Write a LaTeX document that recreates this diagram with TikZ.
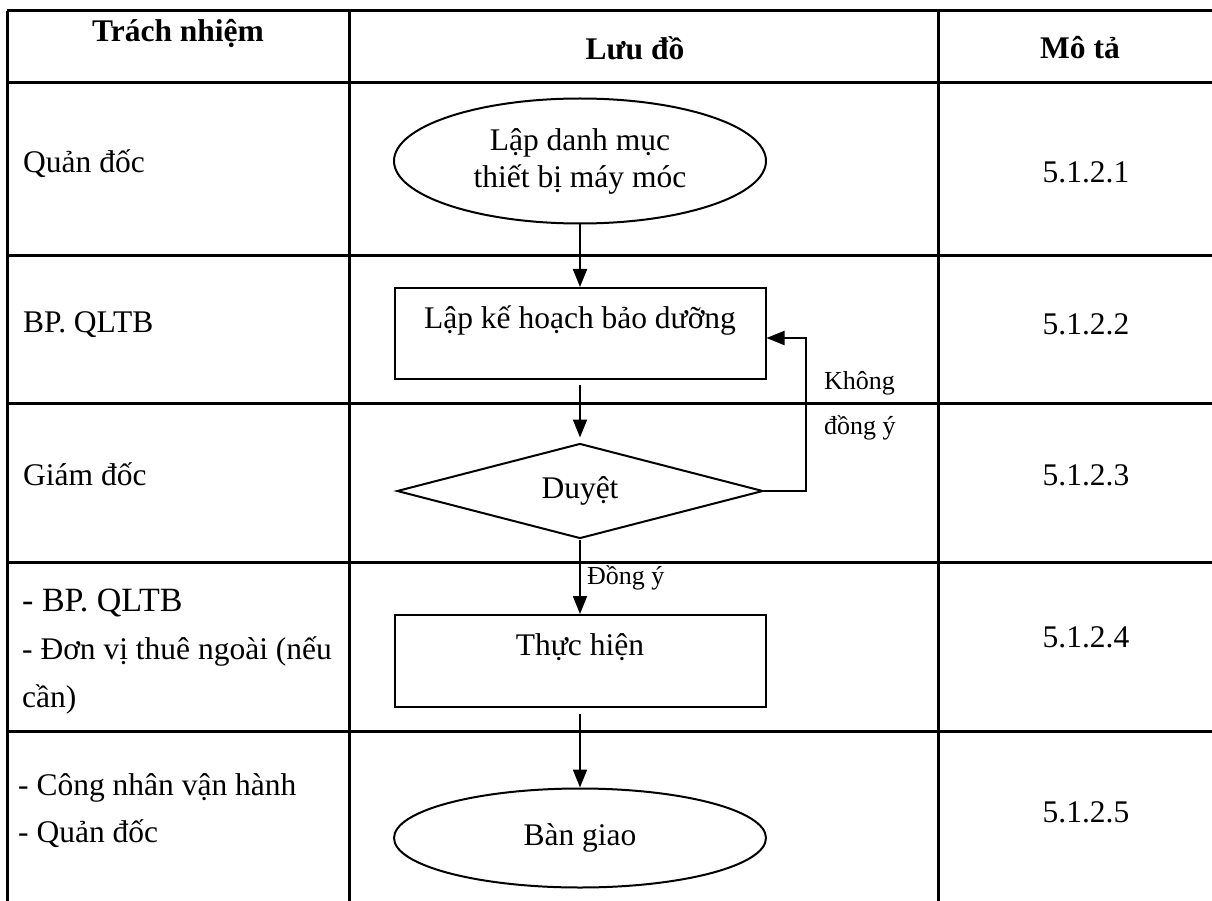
\documentclass[tikz,border=0pt]{standalone}
\usepackage{fontspec}
\setmainfont{Liberation Serif}
\usetikzlibrary{shapes.geometric,arrows.meta}

\newcommand{\cellfont}{\fontsize{31.5}{38}\selectfont}
\newcommand{\smallcellfont}{\fontsize{26}{45}\selectfont}

\tikzset{
  oval/.style={ellipse,draw,line width=2pt,inner sep=0pt,minimum width=372pt,align=center},
  proc/.style={rectangle,draw,line width=2pt,inner sep=0pt,minimum width=371pt,text height=40pt},
  decide/.style={diamond,draw,line width=2pt,inner sep=0pt,aspect=3.85,minimum width=366pt,minimum height=95pt},
  grid/.style={line width=3pt}
}

\begin{document}
\begin{tikzpicture}[x=1pt,y=-1pt,>={Triangle[length=18pt,width=14pt]},
    every node/.style={inner sep=0pt,font=\cellfont}]
      \useasboundingbox (0,0) rectangle (1212,901);

      \draw[grid] (7,11) -- (1216,11);
      \draw[grid] (7,83) -- (1216,83);
      \draw[grid] (7,256) -- (1216,256);
      \draw[grid] (7,403) -- (1216,403);
      \draw[grid] (7,562) -- (1216,562);
      \draw[grid] (7,731) -- (1216,731);
      \draw[grid] (7,11) -- (7,905);
      \draw[grid] (349,11) -- (349,905);
      \draw[grid] (938,11) -- (938,905);

      \node[anchor=base,font=\cellfont\bfseries] (h1) at (178,42) {Trách nhiệm};
      \node[anchor=base,font=\cellfont\bfseries] (h2) at (635,60) {Lưu đồ};
      \node[anchor=base,font=\cellfont\bfseries] (h3) at (1080,59) {Mô tả};

      \node[anchor=base west] (r1) at (23,173) {Quản đốc};
      \node[anchor=base west] (r2) at (23,332) {BP. QLTB};
      \node[anchor=base west] (r3) at (23,485) {Giám đốc};
      \node[anchor=base west,align=left,font=\fontsize{31.5}{48}\selectfont] (r4) at (22,707)
        {{\fontsize{34}{48}\selectfont - BP. QLTB}\\- Đơn vị thuê ngoài (nếu\\cần)};
      \node[anchor=base west,align=left,font=\fontsize{31.5}{47}\selectfont] (r5) at (18,842)
        {- Công nhân vận hành\\- Quản đốc};

      \node[anchor=base] (m1) at (1086,183) {5.1.2.1};
      \node[anchor=base] (m2) at (1086,334) {5.1.2.2};
      \node[anchor=base] (m3) at (1086,485) {5.1.2.3};
      \node[anchor=base] (m4) at (1086,647) {5.1.2.4};
      \node[anchor=base] (m5) at (1086,822) {5.1.2.5};

      \node[oval,minimum height=125pt,font=\fontsize{31.5}{37}\selectfont] (1) at (580,161) {Lập danh mục\\thiết bị máy móc};
      \node[proc,text depth=51pt] (2) at (580,333.5) {Lập kế hoạch bảo dưỡng};
      \node[decide] (3) at (580,491) {Duyệt};
      \node[proc,text depth=52pt] (4) at (580,661) {Thực hiện};
      \node[oval,minimum height=99pt] (5) at (580,838) {Bàn giao};

      \draw[->,line width=2pt] (1) -- (2);
      \draw[->,line width=2pt,shorten <=5pt,shorten >=5pt] (2) -- (3);
      \draw[->,line width=2pt] (3) -- node[right,pos=0.52,xshift=6pt,font=\fontsize{26}{30}\selectfont] {Đồng ý} (4);
      \draw[->,line width=2pt,shorten <=6pt] (4) -- (5);
      \draw[->,line width=2pt] (3.east) -- ++(42,0) |- node[right,pos=0.28,xshift=17pt,align=left,font=\smallcellfont] {Không\\đồng ý} ([yshift=-4.5pt]2.east);
    \end{tikzpicture}
\end{document}
